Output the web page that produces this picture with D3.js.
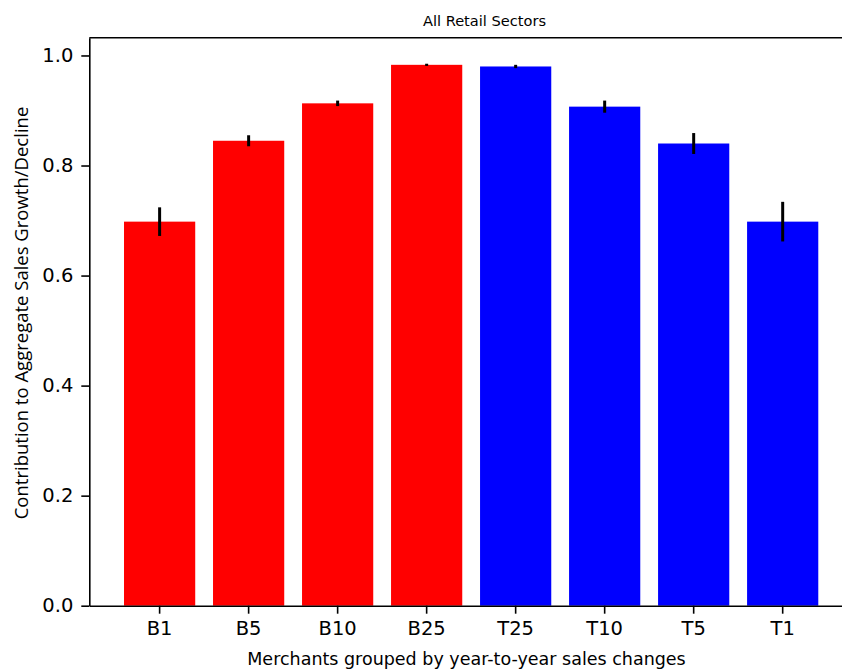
<!DOCTYPE html>
<html>
<head>
<meta charset="utf-8">
<script src="https://cdn.jsdelivr.net/npm/d3@7"></script>
<style>
  body { margin: 0; background: #fff; }
  text { font-family: "DejaVu Sans", sans-serif; fill: #000; }
</style>
</head>
<body>
<div id="chart"></div>
<script>
// Bar groups, bottom (B) merchants in red and top (T) merchants in blue
const categories = ["B1", "B5", "B10", "B25", "T25", "T10", "T5", "T1"];
const values = [0.698, 0.845, 0.913, 0.983, 0.980, 0.907, 0.840, 0.698];
const errors = [0.026, 0.010, 0.005, 0.002, 0.003, 0.011, 0.019, 0.036];
const barColors = ["#ff0000", "#ff0000", "#ff0000", "#ff0000", "#0000ff", "#0000ff", "#0000ff", "#0000ff"];
const yTicks = [0.0, 0.2, 0.4, 0.6, 0.8, 1.0];

const width = 842, height = 671;
// plot area; the right spine falls outside the picture like in the original
const margin = { left: 89.3, right: -11, top: 37.7, bottom: 65.3 };

const svg = d3.select("#chart").append("svg")
    .attr("width", width)
    .attr("height", height);

const x = d3.scaleBand()
    .domain(categories)
    .range([margin.left, width - margin.right])
    .paddingInner(0.2)
    .paddingOuter(0.39);

const y = d3.scaleLinear()
    .domain([0, 1.0323])
    .range([height - margin.bottom, margin.top]);

// bars
svg.append("g")
    .selectAll("rect")
    .data(categories)
    .join("rect")
    .attr("x", d => x(d))
    .attr("width", x.bandwidth())
    .attr("y", (d, i) => y(values[i]))
    .attr("height", (d, i) => y(0) - y(values[i]))
    .attr("fill", (d, i) => barColors[i]);

// error bars
svg.append("g")
    .selectAll("line")
    .data(categories)
    .join("line")
    .attr("x1", d => x(d) + x.bandwidth() / 2)
    .attr("x2", d => x(d) + x.bandwidth() / 2)
    .attr("y1", (d, i) => y(values[i] + errors[i]))
    .attr("y2", (d, i) => y(values[i] - errors[i]))
    .attr("stroke", "#000")
    .attr("stroke-width", 3);

// axes
const xAxis = svg.append("g")
    .attr("transform", `translate(0,${y(0)})`)
    .call(d3.axisBottom(x).tickSize(8).tickPadding(7).tickSizeOuter(0));
const yAxis = svg.append("g")
    .attr("transform", `translate(${margin.left},0)`)
    .call(d3.axisLeft(y).tickValues(yTicks).tickFormat(d3.format(".1f")).tickSize(8).tickPadding(8).tickSizeOuter(0));

[xAxis, yAxis].forEach(g => {
    g.select(".domain").attr("stroke", "#000").attr("stroke-width", 1.6);
    g.selectAll(".tick line").attr("stroke", "#000").attr("stroke-width", 1.6);
    g.selectAll(".tick text").style("font-size", "19.5px").style("font-family", "DejaVu Sans, sans-serif");
});

// top spine
svg.append("line")
    .attr("x1", margin.left).attr("x2", width)
    .attr("y1", y.range()[1]).attr("y2", y.range()[1])
    .attr("stroke", "#000").attr("stroke-width", 1.6);

// title and labels
svg.append("text")
    .attr("x", 484.5).attr("y", 26)
    .attr("text-anchor", "middle")
    .style("font-size", "14.6px")
    .text("All Retail Sectors");

svg.append("text")
    .attr("x", 466.5).attr("y", 665)
    .attr("text-anchor", "middle")
    .style("font-size", "17.5px")
    .text("Merchants grouped by year-to-year sales changes");

svg.append("text")
    .attr("transform", `translate(28,${313}) rotate(-90)`)
    .attr("text-anchor", "middle")
    .style("font-family", "'Open Sans', sans-serif")
    .style("font-size", "18.5px")
    .text("Contribution to Aggregate Sales Growth/Decline");
</script>
</body>
</html>
